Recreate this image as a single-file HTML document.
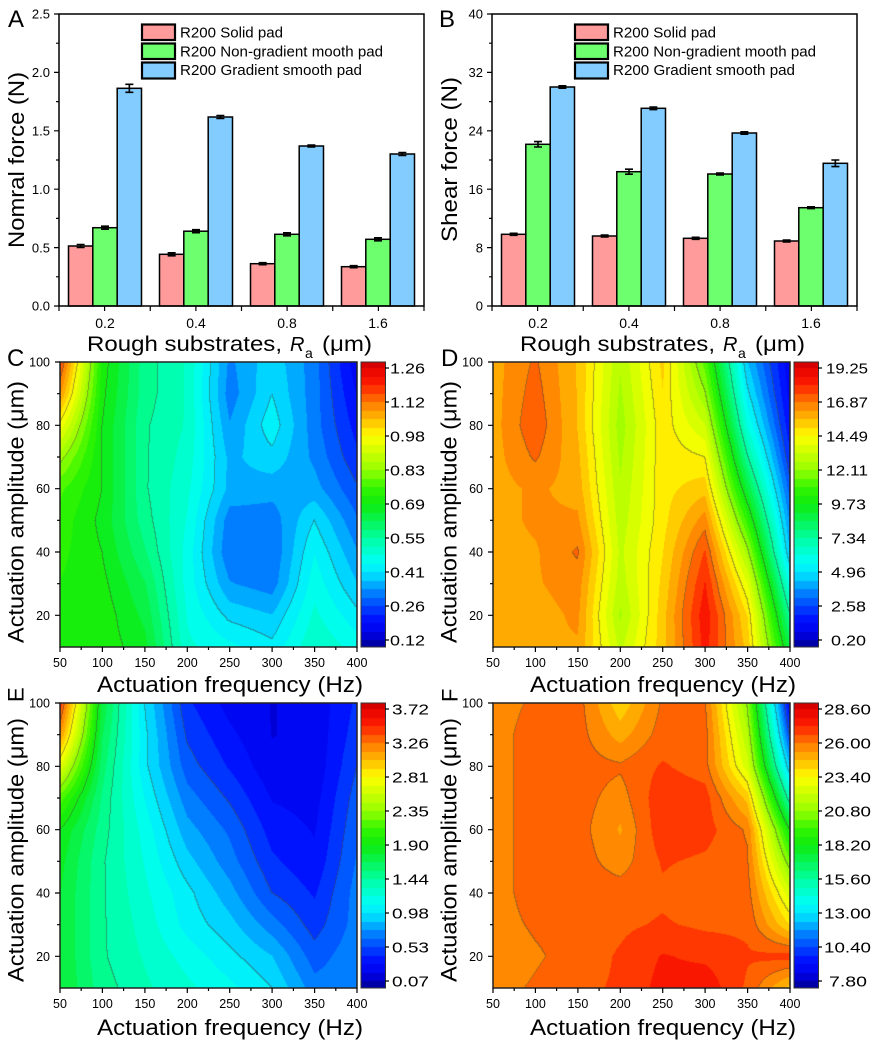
<!DOCTYPE html>
<html><head><meta charset="utf-8"><style>
html,body{margin:0;padding:0;background:#fff}
body{width:873px;height:1041px;position:relative;overflow:hidden;font-family:"Liberation Sans",Arial,sans-serif}
canvas{position:absolute;display:block}
svg{position:absolute;left:0;top:0}
.p{fill:#ff9b9b;stroke:#000;stroke-width:1.5}
.g{fill:#6eff6e;stroke:#000;stroke-width:1.5}
.b{fill:#82ccff;stroke:#000;stroke-width:1.5}
</style></head><body>
<canvas id="cC" width="297" height="285" style="left:60px;top:362px;background:linear-gradient(to right,#40e000,#00ffa0 25%,#00f0f0 45%,#00a0ff 65%,#00c0ff 80%,#0040ff)"></canvas>
<canvas id="bC" width="24" height="285" style="left:361px;top:362px;background:linear-gradient(to top,#0000c0,#00ffff 25%,#00e000 50%,#ffff00 75%,#ff0000 97%,#b00000)"></canvas>
<canvas id="cD" width="297" height="285" style="left:493px;top:362px;background:linear-gradient(to right,#ffa800,#ff9000 20%,#c0ff00 45%,#ffe000 57%,#ff4000 72%,#00e0ff 88%,#0010f0)"></canvas>
<canvas id="bD" width="24" height="285" style="left:794px;top:362px;background:linear-gradient(to top,#0000c0,#00ffff 25%,#00e000 50%,#ffff00 75%,#ff0000 97%,#b00000)"></canvas>
<canvas id="cE" width="297" height="285" style="left:60px;top:703px;background:linear-gradient(to right,#00ff80,#00ffc0 25%,#0080ff 50%,#0010f0 80%,#0060ff)"></canvas>
<canvas id="bE" width="24" height="285" style="left:361px;top:703px;background:linear-gradient(to top,#0000c0,#00ffff 25%,#00e000 50%,#ffff00 75%,#ff0000 97%,#b00000)"></canvas>
<canvas id="cF" width="297" height="285" style="left:493px;top:703px;background:linear-gradient(to right,#ff9000,#ff6000 40%,#ff3000 70%,#ffff00 85%,#0040ff)"></canvas>
<canvas id="bF" width="24" height="285" style="left:794px;top:703px;background:linear-gradient(to top,#0000c0,#00ffff 25%,#00e000 50%,#ffff00 75%,#ff0000 97%,#b00000)"></canvas>

<svg width="873" height="1041" viewBox="0 0 873 1041" font-family="Liberation Sans, Arial, sans-serif" fill="#000">
<!-- ===== Panel A ===== -->
<g>
<rect x="68.5" y="246" width="24.3" height="60" class="p"/>
<rect x="92.8" y="227.7" width="24.4" height="78.3" class="g"/>
<rect x="117.2" y="88.3" width="24.3" height="217.7" class="b"/>
<rect x="159.5" y="254.3" width="24.3" height="51.7" class="p"/>
<rect x="183.8" y="231.2" width="24.4" height="74.8" class="g"/>
<rect x="208.2" y="117" width="24.3" height="189" class="b"/>
<rect x="250.5" y="263.7" width="24.3" height="42.3" class="p"/>
<rect x="274.8" y="234.3" width="24.4" height="71.7" class="g"/>
<rect x="299.2" y="146" width="24.3" height="160" class="b"/>
<rect x="341.5" y="266.7" width="24.3" height="39.3" class="p"/>
<rect x="365.8" y="239.3" width="24.4" height="66.7" class="g"/>
<rect x="390.2" y="154" width="24.3" height="152" class="b"/>
<path stroke="#000" stroke-width="1.6" fill="none" d="
M80.65 244.5V247.5M76.65 244.5H84.65M76.65 247.5H84.65
M105 226.2V229.2M101 226.2H109M101 229.2H109
M129.35 84.3V92.3M125.35 84.3H133.35M125.35 92.3H133.35
M171.65 252.8V255.8M167.65 252.8H175.65M167.65 255.8H175.65
M196 229.7V232.7M192 229.7H200M192 232.7H200
M220.35 115.5V118.5M216.35 115.5H224.35M216.35 118.5H224.35
M262.65 262.7V264.7M258.65 262.7H266.65M258.65 264.7H266.65
M287 232.8V235.8M283 232.8H291M283 235.8H291
M311.35 145V147M307.35 145H315.35M307.35 147H315.35
M353.65 265.7V267.7M349.65 265.7H357.65M349.65 267.7H357.65
M378 237.8V240.8M374 237.8H382M374 240.8H382
M402.35 152.5V155.5M398.35 152.5H406.35M398.35 155.5H406.35"/>
<rect x="59" y="14" width="365" height="292" fill="none" stroke="#000" stroke-width="1.5"/>
<path stroke="#000" stroke-width="1.2" fill="none" d="
M54 14H59M54 72.4H59M54 130.8H59M54 189.2H59M54 247.6H59M54 306H59
M56 43.2H59M56 101.6H59M56 160H59M56 218.4H59M56 276.8H59
M59 306V311M104.6 306V311M150.25 306V311M195.9 306V311M241.5 306V311M287.1 306V311M332.75 306V311M378.4 306V311M424 306V311"/>
<g font-size="13" text-anchor="end">
<text x="50" y="18.7">2.5</text><text x="50" y="77.1">2.0</text><text x="50" y="135.5">1.5</text>
<text x="50" y="193.9">1.0</text><text x="50" y="252.3">0.5</text><text x="50" y="310.7">0.0</text>
</g>
<g font-size="14" text-anchor="middle">
<text x="105" y="328">0.2</text><text x="196" y="328">0.4</text><text x="287" y="328">0.8</text><text x="378" y="328">1.6</text>
</g>
<text x="8" y="27" font-size="24">A</text>
<text transform="translate(24,248) rotate(-90)" font-size="22" textLength="176" lengthAdjust="spacingAndGlyphs">Nomral force (N)</text>
<text x="87" y="351" font-size="21" textLength="195" lengthAdjust="spacingAndGlyphs">Rough substrates,</text>
<text x="290" y="351" font-size="20" font-style="italic">R</text>
<text x="305" y="358" font-size="14">a</text>
<text x="322" y="351" font-size="21" textLength="50" lengthAdjust="spacingAndGlyphs">(μm)</text>
<rect x="142" y="24.5" width="33" height="15.5" class="p" style="stroke-width:2.2"/>
<rect x="142" y="43.5" width="33" height="15.5" class="g" style="stroke-width:2.2"/>
<rect x="142" y="62.5" width="33" height="16" class="b" style="stroke-width:2.2"/>
<g font-size="15">
<text x="180" y="37.3" textLength="103" lengthAdjust="spacingAndGlyphs">R200 Solid pad</text>
<text x="180" y="56.5" textLength="203" lengthAdjust="spacingAndGlyphs">R200 Non-gradient mooth pad</text>
<text x="180" y="75.2" textLength="182" lengthAdjust="spacingAndGlyphs">R200 Gradient smooth pad</text>
</g>
</g>

<!-- ===== Panel B ===== -->
<g transform="translate(433,0)">
<rect x="68.5" y="234.3" width="24.3" height="71.7" class="p"/>
<rect x="92.8" y="144.3" width="24.4" height="161.7" class="g"/>
<rect x="117.2" y="87" width="24.3" height="219" class="b"/>
<rect x="159.5" y="236" width="24.3" height="70" class="p"/>
<rect x="183.8" y="171.7" width="24.4" height="134.3" class="g"/>
<rect x="208.2" y="108.3" width="24.3" height="197.7" class="b"/>
<rect x="250.5" y="238.3" width="24.3" height="67.7" class="p"/>
<rect x="274.8" y="174" width="24.4" height="132" class="g"/>
<rect x="299.2" y="133" width="24.3" height="173" class="b"/>
<rect x="341.5" y="241" width="24.3" height="65" class="p"/>
<rect x="365.8" y="207.7" width="24.4" height="98.3" class="g"/>
<rect x="390.2" y="163.3" width="24.3" height="142.7" class="b"/>
<path stroke="#000" stroke-width="1.6" fill="none" d="
M80.65 233.3V235.3M76.65 233.3H84.65M76.65 235.3H84.65
M105 141.6V147M101 141.6H109M101 147H109
M129.35 85.8V88.2M125.35 85.8H133.35M125.35 88.2H133.35
M171.65 235V237M167.65 235H175.65M167.65 237H175.65
M196 169.2V174.2M192 169.2H200M192 174.2H200
M220.35 107V109.6M216.35 107H224.35M216.35 109.6H224.35
M262.65 237.3V239.3M258.65 237.3H266.65M258.65 239.3H266.65
M287 173V175M283 173H291M283 175H291
M311.35 131.8V134.2M307.35 131.8H315.35M307.35 134.2H315.35
M353.65 240V242M349.65 240H357.65M349.65 242H357.65
M378 206.8V208.6M374 206.8H382M374 208.6H382
M402.35 160V166.6M398.35 160H406.35M398.35 166.6H406.35"/>
<rect x="59" y="14" width="365" height="292" fill="none" stroke="#000" stroke-width="1.5"/>
<path stroke="#000" stroke-width="1.2" fill="none" d="
M54 14H59M54 72.4H59M54 130.8H59M54 189.2H59M54 247.6H59M54 306H59
M56 43.2H59M56 101.6H59M56 160H59M56 218.4H59M56 276.8H59
M59 306V311M104.6 306V311M150.25 306V311M195.9 306V311M241.5 306V311M287.1 306V311M332.75 306V311M378.4 306V311M424 306V311"/>
<g font-size="13" text-anchor="end">
<text x="50" y="18.7">40</text><text x="50" y="77.1">32</text><text x="50" y="135.5">24</text>
<text x="50" y="193.9">16</text><text x="50" y="252.3">8</text><text x="50" y="310.7">0</text>
</g>
<g font-size="14" text-anchor="middle">
<text x="105" y="328">0.2</text><text x="196" y="328">0.4</text><text x="287" y="328">0.8</text><text x="378" y="328">1.6</text>
</g>
<text x="6" y="27" font-size="24">B</text>
<text transform="translate(24,242) rotate(-90)" font-size="22" textLength="165" lengthAdjust="spacingAndGlyphs">Shear force (N)</text>
<text x="87" y="351" font-size="21" textLength="195" lengthAdjust="spacingAndGlyphs">Rough substrates,</text>
<text x="290" y="351" font-size="20" font-style="italic">R</text>
<text x="305" y="358" font-size="14">a</text>
<text x="322" y="351" font-size="21" textLength="50" lengthAdjust="spacingAndGlyphs">(μm)</text>
<rect x="142" y="24.5" width="33" height="15.5" class="p" style="stroke-width:2.2"/>
<rect x="142" y="43.5" width="33" height="15.5" class="g" style="stroke-width:2.2"/>
<rect x="142" y="62.5" width="33" height="16" class="b" style="stroke-width:2.2"/>
<g font-size="15">
<text x="180" y="37.3" textLength="103" lengthAdjust="spacingAndGlyphs">R200 Solid pad</text>
<text x="180" y="56.5" textLength="203" lengthAdjust="spacingAndGlyphs">R200 Non-gradient mooth pad</text>
<text x="180" y="75.2" textLength="182" lengthAdjust="spacingAndGlyphs">R200 Gradient smooth pad</text>
</g>
</g>

<!-- ===== C ===== -->
<g>
<rect x="60" y="362" width="297" height="285" fill="none" stroke="#222" stroke-width="1.5"/>
<rect x="361" y="362" width="24.5" height="285" fill="none" stroke="#333" stroke-width="1"/>
<path stroke="#000" stroke-width="1.2" fill="none" d="
M55 362H60M55 425.3H60M55 488.7H60M55 552H60M55 615.3H60
M57 393.7H60M57 457H60M57 520.3H60M57 583.7H60
M60 647V652M102.4 647V652M144.9 647V652M187.3 647V652M229.7 647V652M272.1 647V652M314.6 647V652M357 647V652
M81.2 647V650M123.6 647V650M166.1 647V650M208.5 647V650M250.9 647V650M293.4 647V650M335.8 647V650
M385 368H389M385 402H389M385 436H389M385 470H389M385 504H389M385 538H389M385 572H389M385 606H389M385 640H389"/>
<g font-size="12.5" text-anchor="end">
<text x="50" y="366.5">100</text><text x="50" y="429.8">80</text><text x="50" y="493.2">60</text><text x="50" y="556.5">40</text><text x="50" y="619.8">20</text>
</g>
<g font-size="12.5" text-anchor="middle">
<text x="60" y="667">50</text><text x="102.4" y="667">100</text><text x="144.9" y="667">150</text><text x="187.3" y="667">200</text>
<text x="229.7" y="667">250</text><text x="272.1" y="667">300</text><text x="314.6" y="667">350</text><text x="357" y="667">400</text>
</g>
<text x="97" y="692" font-size="22" textLength="266" lengthAdjust="spacingAndGlyphs">Actuation frequency (Hz)</text>
<text transform="translate(23.5,643) rotate(-90)" font-size="22" textLength="262" lengthAdjust="spacingAndGlyphs">Actuation amplitude (μm)</text>
</g>
<text x="7" y="366" font-size="24">C</text>
<g font-size="15">
<text x="390" y="373.5" textLength="35" lengthAdjust="spacingAndGlyphs">1.26</text>
<text x="390" y="407.5" textLength="35" lengthAdjust="spacingAndGlyphs">1.12</text>
<text x="390" y="441.5" textLength="35" lengthAdjust="spacingAndGlyphs">0.98</text>
<text x="390" y="475.5" textLength="35" lengthAdjust="spacingAndGlyphs">0.83</text>
<text x="390" y="509.5" textLength="35" lengthAdjust="spacingAndGlyphs">0.69</text>
<text x="390" y="543.5" textLength="35" lengthAdjust="spacingAndGlyphs">0.55</text>
<text x="390" y="577.5" textLength="35" lengthAdjust="spacingAndGlyphs">0.41</text>
<text x="390" y="611.5" textLength="35" lengthAdjust="spacingAndGlyphs">0.26</text>
<text x="390" y="645.5" textLength="35" lengthAdjust="spacingAndGlyphs">0.12</text>
</g>

<!-- D -->
<g transform="translate(433,0)">
<rect x="60" y="362" width="297" height="285" fill="none" stroke="#222" stroke-width="1.5"/>
<rect x="361" y="362" width="24.5" height="285" fill="none" stroke="#333" stroke-width="1"/>
<path stroke="#000" stroke-width="1.2" fill="none" d="
M55 362H60M55 425.3H60M55 488.7H60M55 552H60M55 615.3H60
M57 393.7H60M57 457H60M57 520.3H60M57 583.7H60
M60 647V652M102.4 647V652M144.9 647V652M187.3 647V652M229.7 647V652M272.1 647V652M314.6 647V652M357 647V652
M81.2 647V650M123.6 647V650M166.1 647V650M208.5 647V650M250.9 647V650M293.4 647V650M335.8 647V650
M385 368H389M385 402H389M385 436H389M385 470H389M385 504H389M385 538H389M385 572H389M385 606H389M385 640H389"/>
<g font-size="12.5" text-anchor="end">
<text x="50" y="366.5">100</text><text x="50" y="429.8">80</text><text x="50" y="493.2">60</text><text x="50" y="556.5">40</text><text x="50" y="619.8">20</text>
</g>
<g font-size="12.5" text-anchor="middle">
<text x="60" y="667">50</text><text x="102.4" y="667">100</text><text x="144.9" y="667">150</text><text x="187.3" y="667">200</text>
<text x="229.7" y="667">250</text><text x="272.1" y="667">300</text><text x="314.6" y="667">350</text><text x="357" y="667">400</text>
</g>
<text x="97" y="692" font-size="22" textLength="266" lengthAdjust="spacingAndGlyphs">Actuation frequency (Hz)</text>
<text transform="translate(23.5,643) rotate(-90)" font-size="22" textLength="262" lengthAdjust="spacingAndGlyphs">Actuation amplitude (μm)</text>
<text x="8" y="366" font-size="24">D</text>
<g font-size="15">
<text x="393" y="373.5" textLength="42" lengthAdjust="spacingAndGlyphs">19.25</text>
<text x="393" y="407.5" textLength="42" lengthAdjust="spacingAndGlyphs">16.87</text>
<text x="393" y="441.5" textLength="42" lengthAdjust="spacingAndGlyphs">14.49</text>
<text x="393" y="475.5" textLength="42" lengthAdjust="spacingAndGlyphs">12.11</text>
<text x="398" y="509.5" textLength="35" lengthAdjust="spacingAndGlyphs">9.73</text>
<text x="398" y="543.5" textLength="35" lengthAdjust="spacingAndGlyphs">7.34</text>
<text x="398" y="577.5" textLength="35" lengthAdjust="spacingAndGlyphs">4.96</text>
<text x="398" y="611.5" textLength="35" lengthAdjust="spacingAndGlyphs">2.58</text>
<text x="398" y="645.5" textLength="35" lengthAdjust="spacingAndGlyphs">0.20</text>
</g>
</g>

<!-- E -->
<g transform="translate(0,341)">
<rect x="60" y="362" width="297" height="285" fill="none" stroke="#222" stroke-width="1.5"/>
<rect x="361" y="362" width="24.5" height="285" fill="none" stroke="#333" stroke-width="1"/>
<path stroke="#000" stroke-width="1.2" fill="none" d="
M55 362H60M55 425.3H60M55 488.7H60M55 552H60M55 615.3H60
M57 393.7H60M57 457H60M57 520.3H60M57 583.7H60
M60 647V652M102.4 647V652M144.9 647V652M187.3 647V652M229.7 647V652M272.1 647V652M314.6 647V652M357 647V652
M81.2 647V650M123.6 647V650M166.1 647V650M208.5 647V650M250.9 647V650M293.4 647V650M335.8 647V650
M385 368H389M385 402H389M385 436H389M385 470H389M385 504H389M385 538H389M385 572H389M385 606H389M385 640H389"/>
<g font-size="12.5" text-anchor="end">
<text x="50" y="366.5">100</text><text x="50" y="429.8">80</text><text x="50" y="493.2">60</text><text x="50" y="556.5">40</text><text x="50" y="619.8">20</text>
</g>
<g font-size="12.5" text-anchor="middle">
<text x="60" y="667">50</text><text x="102.4" y="667">100</text><text x="144.9" y="667">150</text><text x="187.3" y="667">200</text>
<text x="229.7" y="667">250</text><text x="272.1" y="667">300</text><text x="314.6" y="667">350</text><text x="357" y="667">400</text>
</g>
<text x="97" y="694" font-size="22" textLength="266" lengthAdjust="spacingAndGlyphs">Actuation frequency (Hz)</text>
<text transform="translate(23.5,641) rotate(-90)" font-size="22" textLength="264" lengthAdjust="spacingAndGlyphs">Actuation amplitude (μm)</text>
<text transform="translate(23.5,361) rotate(-90)" font-size="22">E</text>
<g font-size="15">
<text x="392" y="373.5" textLength="37" lengthAdjust="spacingAndGlyphs">3.72</text>
<text x="392" y="407.5" textLength="37" lengthAdjust="spacingAndGlyphs">3.26</text>
<text x="392" y="441.5" textLength="37" lengthAdjust="spacingAndGlyphs">2.81</text>
<text x="392" y="475.5" textLength="37" lengthAdjust="spacingAndGlyphs">2.35</text>
<text x="392" y="509.5" textLength="37" lengthAdjust="spacingAndGlyphs">1.90</text>
<text x="392" y="543.5" textLength="37" lengthAdjust="spacingAndGlyphs">1.44</text>
<text x="392" y="577.5" textLength="37" lengthAdjust="spacingAndGlyphs">0.98</text>
<text x="392" y="611.5" textLength="37" lengthAdjust="spacingAndGlyphs">0.53</text>
<text x="392" y="645.5" textLength="37" lengthAdjust="spacingAndGlyphs">0.07</text>
</g>
</g>

<!-- F -->
<g transform="translate(433,341)">
<rect x="60" y="362" width="297" height="285" fill="none" stroke="#222" stroke-width="1.5"/>
<rect x="361" y="362" width="24.5" height="285" fill="none" stroke="#333" stroke-width="1"/>
<path stroke="#000" stroke-width="1.2" fill="none" d="
M55 362H60M55 425.3H60M55 488.7H60M55 552H60M55 615.3H60
M57 393.7H60M57 457H60M57 520.3H60M57 583.7H60
M60 647V652M102.4 647V652M144.9 647V652M187.3 647V652M229.7 647V652M272.1 647V652M314.6 647V652M357 647V652
M81.2 647V650M123.6 647V650M166.1 647V650M208.5 647V650M250.9 647V650M293.4 647V650M335.8 647V650
M385 368H389M385 402H389M385 436H389M385 470H389M385 504H389M385 538H389M385 572H389M385 606H389M385 640H389"/>
<g font-size="12.5" text-anchor="end">
<text x="50" y="366.5">100</text><text x="50" y="429.8">80</text><text x="50" y="493.2">60</text><text x="50" y="556.5">40</text><text x="50" y="619.8">20</text>
</g>
<g font-size="12.5" text-anchor="middle">
<text x="60" y="667">50</text><text x="102.4" y="667">100</text><text x="144.9" y="667">150</text><text x="187.3" y="667">200</text>
<text x="229.7" y="667">250</text><text x="272.1" y="667">300</text><text x="314.6" y="667">350</text><text x="357" y="667">400</text>
</g>
<text x="97" y="694" font-size="22" textLength="266" lengthAdjust="spacingAndGlyphs">Actuation frequency (Hz)</text>
<text transform="translate(23.5,641) rotate(-90)" font-size="22" textLength="264" lengthAdjust="spacingAndGlyphs">Actuation amplitude (μm)</text>
<text transform="translate(24.5,361) rotate(-90)" font-size="22">F</text>
<g font-size="15">
<text x="391" y="373.5" textLength="47" lengthAdjust="spacingAndGlyphs">28.60</text>
<text x="391" y="407.5" textLength="47" lengthAdjust="spacingAndGlyphs">26.00</text>
<text x="391" y="441.5" textLength="47" lengthAdjust="spacingAndGlyphs">23.40</text>
<text x="391" y="475.5" textLength="47" lengthAdjust="spacingAndGlyphs">20.80</text>
<text x="391" y="509.5" textLength="47" lengthAdjust="spacingAndGlyphs">18.20</text>
<text x="391" y="543.5" textLength="47" lengthAdjust="spacingAndGlyphs">15.60</text>
<text x="391" y="577.5" textLength="47" lengthAdjust="spacingAndGlyphs">13.00</text>
<text x="391" y="611.5" textLength="47" lengthAdjust="spacingAndGlyphs">10.40</text>
<text x="396" y="645.5" textLength="38" lengthAdjust="spacingAndGlyphs">7.80</text>
</g>
</g>
</svg>

<script>
(function(){
var S=[[-0.05,0,0,120],[0.03,0,0,235],[0.08,0,20,255],[0.16,0,110,255],[0.25,0,235,255],[0.30,0,255,235],
[0.375,0,255,160],[0.5,15,235,15],[0.56,50,245,0],[0.625,150,255,0],[0.75,255,255,0],[0.81,255,190,0],
[0.875,255,120,0],[0.94,255,30,0],[1.0,230,0,0],[1.06,165,0,0]];
function cm(t){
  if(t<=S[0][0])return [S[0][1],S[0][2],S[0][3]];
  for(var i=1;i<S.length;i++){if(t<=S[i][0]){var a=S[i-1],b=S[i],f=(t-a[0])/(b[0]-a[0]);
    return [a[1]+(b[1]-a[1])*f,a[2]+(b[2]-a[2])*f,a[3]+(b[3]-a[3])*f];}}
  var l=S[S.length-1];return [l[1],l[2],l[3]];
}
var N=32;
function q(t){return (Math.floor(t*N)+0.5)/N;}
function contour(id,G){
  var c=document.getElementById(id);if(!c||!c.getContext)return;
  var x=c.getContext('2d'),W=c.width,H=c.height,T=new Float32Array(W*H);
  for(var py=0;py<H;py++){var fy=(py+0.5)/H*9,j=Math.min(Math.floor(fy),8),v=fy-j;
    for(var px=0;px<W;px++){var fx=(px+0.5)/W*7,i=Math.min(Math.floor(fx),6),u=fx-i;
      T[py*W+px]=G[j][i]*(1-u)*(1-v)+G[j][i+1]*u*(1-v)+G[j+1][i]*(1-u)*v+G[j+1][i+1]*u*v;}}
  var im=x.createImageData(W,H),d=im.data;
  for(var p=0;p<W*H;p++){
    var t=T[p],col=cm(q(t)),px2=p%W,py2=(p/W)|0,L=Math.floor(t*8),line=false;
    if(px2<W-1&&Math.floor(T[p+1]*8)!==L)line=true;
    if(py2<H-1&&Math.floor(T[p+W]*8)!==L)line=true;
    if(line){col=[col[0]*0.55+30,col[1]*0.55+30,col[2]*0.55+30];}
    d[p*4]=col[0];d[p*4+1]=col[1];d[p*4+2]=col[2];d[p*4+3]=255;
  }
  x.putImageData(im,0,0);
}
function cbar(id){
  var c=document.getElementById(id);if(!c||!c.getContext)return;
  var x=c.getContext('2d'),W=c.width,H=c.height;
  for(var py=0;py<H;py++){var t=(278-(py+0.5))/272,col=cm(q(t));
    x.fillStyle='rgb('+Math.round(col[0])+','+Math.round(col[1])+','+Math.round(col[2])+')';x.fillRect(0,py,W,1);}
}
var C=[
[0.92,0.52,0.39,0.34,0.18,0.24,0.17,0.04],
[0.85,0.51,0.39,0.34,0.17,0.25,0.17,0.06],
[0.74,0.50,0.38,0.34,0.19,0.27,0.17,0.08],
[0.64,0.50,0.38,0.33,0.21,0.24,0.18,0.10],
[0.57,0.50,0.38,0.32,0.21,0.20,0.20,0.13],
[0.55,0.49,0.39,0.31,0.17,0.17,0.25,0.16],
[0.54,0.50,0.41,0.30,0.16,0.16,0.28,0.19],
[0.53,0.51,0.44,0.30,0.19,0.17,0.30,0.22],
[0.53,0.52,0.46,0.31,0.24,0.22,0.32,0.26],
[0.53,0.52,0.48,0.32,0.29,0.26,0.34,0.30]];
var D=[
[0.83,0.88,0.81,0.66,0.79,0.58,0.22,0.04],
[0.83,0.89,0.81,0.65,0.78,0.63,0.26,0.05],
[0.83,0.90,0.81,0.64,0.77,0.69,0.31,0.07],
[0.83,0.88,0.82,0.65,0.77,0.75,0.38,0.10],
[0.83,0.85,0.83,0.66,0.77,0.80,0.46,0.14],
[0.83,0.85,0.85,0.67,0.77,0.86,0.55,0.18],
[0.83,0.84,0.88,0.68,0.78,0.91,0.64,0.22],
[0.82,0.84,0.86,0.67,0.79,0.94,0.72,0.30],
[0.82,0.83,0.85,0.65,0.80,0.96,0.78,0.38],
[0.82,0.84,0.84,0.68,0.80,0.95,0.80,0.45]];
var E=[
[0.93,0.46,0.25,0.10,0.05,0.03,0.04,0.10],
[0.85,0.44,0.26,0.12,0.07,0.03,0.04,0.11],
[0.72,0.42,0.26,0.14,0.09,0.04,0.04,0.125],
[0.58,0.40,0.28,0.17,0.12,0.06,0.05,0.14],
[0.50,0.39,0.30,0.20,0.15,0.08,0.06,0.15],
[0.48,0.38,0.31,0.23,0.17,0.10,0.07,0.16],
[0.47,0.38,0.32,0.26,0.20,0.125,0.09,0.17],
[0.47,0.38,0.33,0.27,0.23,0.17,0.11,0.17],
[0.47,0.38,0.34,0.30,0.26,0.22,0.14,0.18],
[0.47,0.39,0.35,0.32,0.29,0.25,0.17,0.18]];
var F=[
[0.86,0.88,0.89,0.79,0.88,0.88,0.62,0.05],
[0.86,0.89,0.89,0.83,0.89,0.89,0.66,0.12],
[0.86,0.89,0.89,0.88,0.91,0.89,0.70,0.22],
[0.86,0.89,0.89,0.86,0.93,0.92,0.80,0.35],
[0.86,0.89,0.89,0.84,0.93,0.92,0.87,0.50],
[0.86,0.89,0.89,0.86,0.91,0.90,0.88,0.60],
[0.86,0.89,0.89,0.89,0.90,0.88,0.89,0.70],
[0.86,0.88,0.89,0.90,0.91,0.90,0.90,0.78],
[0.85,0.87,0.89,0.91,0.94,0.93,0.91,0.92],
[0.86,0.88,0.90,0.91,0.95,0.96,0.90,0.80]];
contour('cC',C);contour('cD',D);contour('cE',E);contour('cF',F);
cbar('bC');cbar('bD');cbar('bE');cbar('bF');
})();
</script>
</body></html>
